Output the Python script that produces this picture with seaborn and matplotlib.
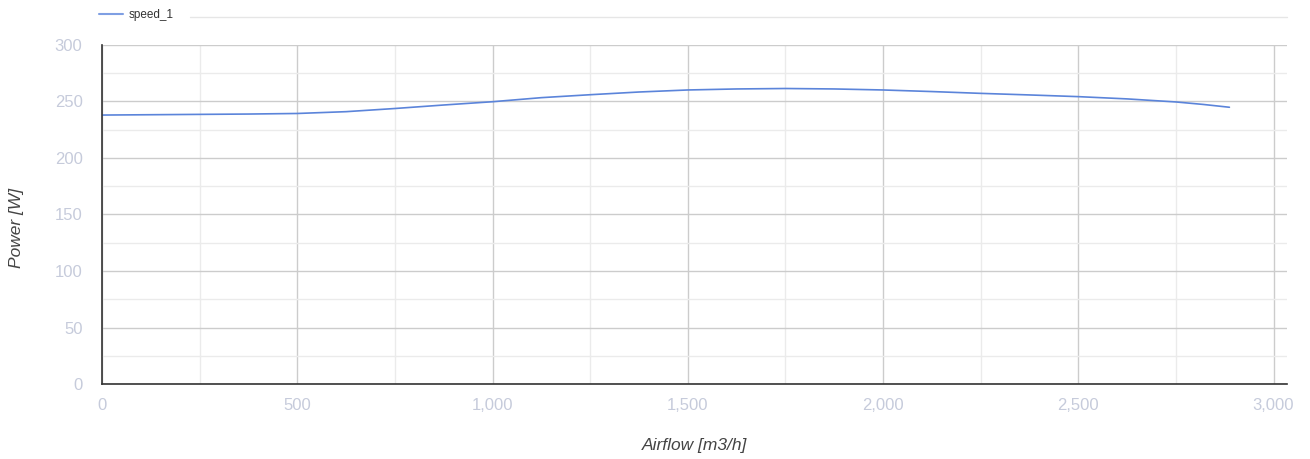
import matplotlib.pyplot as plt
import matplotlib.ticker as mticker
import pandas as pd
import seaborn as sns
from matplotlib.lines import Line2D

# values
airflow = [0, 125, 250, 375, 500, 625, 750, 875, 1000, 1125, 1250, 1375, 1500, 1625,
           1750, 1875, 2000, 2125, 2250, 2375, 2500, 2625, 2750, 2820, 2887]
power = [238.0, 238.3, 238.6, 238.9, 239.4, 241.0, 243.8, 246.9, 249.8, 253.4, 256.0, 258.4,
         260.2, 261.1, 261.5, 261.1, 260.2, 258.8, 257.2, 255.8, 254.3, 252.3, 249.6, 247.4, 244.9]
series_name = 'speed_1'

df = pd.DataFrame({'Airflow': airflow, 'Power': power, 'series': series_name})

sns.set_theme(style='white')
plt.rcParams['font.family'] = ['Liberation Sans', 'DejaVu Sans']

fig = plt.figure(figsize=(13.1, 4.59), dpi=100)
ax = fig.add_axes([102 / 1310, 75 / 459, 1185 / 1310, 339 / 459])

sns.lineplot(data=df, x='Airflow', y='Power', hue='series', palette=['#5b84da'],
             linewidth=1.2, ax=ax, legend=False)

ax.set_xlim(0, 3034.5)
ax.set_ylim(0, 300)

# major / minor grid like the original
ax.xaxis.set_major_locator(mticker.MultipleLocator(500))
ax.xaxis.set_minor_locator(mticker.MultipleLocator(250))
ax.yaxis.set_major_locator(mticker.MultipleLocator(50))
ax.yaxis.set_minor_locator(mticker.MultipleLocator(25))
ax.grid(which='major', color='#cccccc', linewidth=1.0)
ax.grid(which='minor', color='#ebebeb', linewidth=1.0)
ax.set_axisbelow(True)
ax.xaxis.set_major_formatter(mticker.StrMethodFormatter('{x:,.0f}'))

ax.tick_params(axis='both', which='both', length=0, labelsize=12, labelcolor='#c6cbdb')
ax.tick_params(axis='y', pad=14)
ax.tick_params(axis='x', pad=10)

for side in ['top', 'right']:
    ax.spines[side].set_visible(False)
for side in ['left', 'bottom']:
    ax.spines[side].set_color('#333333')
    ax.spines[side].set_linewidth(1.2)

ax.set_xlabel('Airflow [m3/h]', fontsize=12.5, style='italic', color='#444444', labelpad=18)
ax.set_ylabel('Power [W]', fontsize=12.5, style='italic', color='#444444')
ax.yaxis.set_label_coords(-0.066, 0.46)

# legend row at the top
fig.add_artist(Line2D([190 / 1310, 1287 / 1310], [1 - 17 / 459] * 2, color='#e6e6e6', linewidth=1.0))
handle = Line2D([], [], color='#7f9fe3', linewidth=1.5)
fig.legend([handle], [series_name], loc='center left', bbox_to_anchor=(99 / 1310, 1 - 15 / 459),
           frameon=False, fontsize=8.5, handlelength=2.0, handletextpad=0.5,
           labelcolor='#333333', borderaxespad=0, borderpad=0)

fig.savefig('out.png', dpi=100)
